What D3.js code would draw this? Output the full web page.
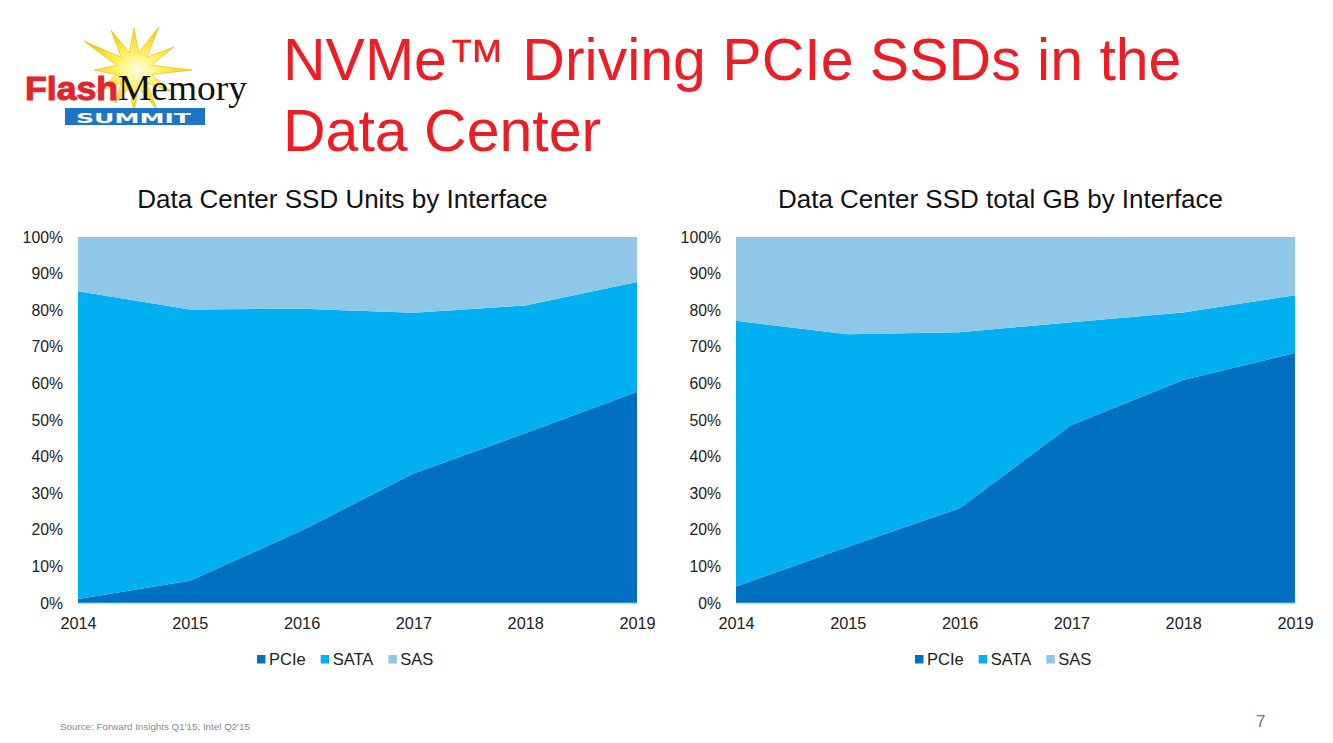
<!DOCTYPE html>
<html>
<head>
<meta charset="utf-8">
<script src="https://cdn.jsdelivr.net/npm/d3@7"></script>
<style>
  html, body { margin: 0; padding: 0; background: #fff; }
  svg { display: block; font-family: "Liberation Sans", Arial, sans-serif; }
</style>
</head>
<body>
<svg id="slide" width="1333" height="743"></svg>
<script>
// ---- data ----
const years = [2014, 2015, 2016, 2017, 2018, 2019];
const seriesNames = ["PCIe", "SATA", "SAS"];
// Units by interface (%)
const unitsPCIe = [1.1, 6.1, 19.8, 35.4, 46.4, 57.7];
const unitsSATA = [84.1, 74.1, 60.6, 43.9, 34.9, 30.0];
const unitsSAS  = [14.8, 19.8, 19.6, 20.7, 18.7, 12.3];
// Total GB by interface (%)
const gbPCIe = [4.5, 15.4, 25.9, 48.6, 60.9, 68.3];
const gbSATA = [72.6, 58.0, 48.1, 28.1, 18.5, 15.8];
const gbSAS  = [22.9, 26.6, 26.0, 23.3, 20.6, 15.9];
const yTicks = [0, 10, 20, 30, 40, 50, 60, 70, 80, 90, 100];
const chartTitles = ["Data Center SSD Units by Interface", "Data Center SSD total GB by Interface"];
const slideTitle = ["NVMe\u2122 Driving PCIe SSDs in the", "Data Center"];
const sourceText = "Source: Forward Insights Q1'15, Intel Q2'15";
const pageNumber = "7";

const colors = { PCIe: "#0070C0", SATA: "#00B0F0", SAS: "#8EC7E8" };

const svg = d3.select("#slide");

// ---- logo ----
const logo = svg.append("g").attr("class", "logo");
const defs = svg.append("defs");
const rg = defs.append("radialGradient").attr("id", "sun");
rg.append("stop").attr("offset", "0%").attr("stop-color", "#FFFDE8");
rg.append("stop").attr("offset", "45%").attr("stop-color", "#FFF15A");
rg.append("stop").attr("offset", "100%").attr("stop-color", "#F3C814");
const rays = [42, 50, 46, 58, 44, 46, 42, 38, 44, 40, 58, 46];
const starPts = [];
rays.forEach((r, i) => {
  const a = (i / rays.length) * 2 * Math.PI;
  starPts.push([a, r]);
  starPts.push([a + Math.PI / rays.length, 18]);
});
logo.append("path")
  .attr("transform", "translate(134,70)")
  .attr("d", d3.lineRadial().curve(d3.curveLinearClosed)(starPts))
  .attr("fill", "url(#sun)")
  .attr("stroke", "#E7B800").attr("stroke-width", 0.6);
logo.append("rect").attr("x", 65).attr("y", 108).attr("width", 140).attr("height", 17).attr("fill", "#1E74C8");
logo.append("text").attr("x", 76).attr("y", 122.5)
  .attr("fill", "#fff").attr("font-weight", "bold").attr("font-size", 14)
  .attr("font-family", "'DejaVu Sans', sans-serif")
  .attr("textLength", 115).attr("lengthAdjust", "spacingAndGlyphs").text("SUMMIT");
logo.append("text").attr("x", 25).attr("y", 100).attr("fill", "#E3242B")
  .attr("font-weight", "bold").attr("font-size", 33)
  .attr("stroke", "#E3242B").attr("stroke-width", 1)
  .attr("font-family", "'Liberation Sans Narrow', 'Liberation Sans', sans-serif")
  .attr("textLength", 93).attr("lengthAdjust", "spacingAndGlyphs").text("Flash");
logo.append("text").attr("x", 118).attr("y", 100).attr("fill", "#111")
  .attr("font-size", 36).attr("font-family", "'Liberation Serif', 'DejaVu Serif', serif")
  .attr("textLength", 129).attr("lengthAdjust", "spacingAndGlyphs").text("Memory");

// ---- slide title ----
svg.append("g").selectAll("text").data(slideTitle).join("text")
  .attr("x", 283).attr("y", (d, i) => 80 + i * 71)
  .attr("fill", "#EE1C25").attr("font-size", 59).text(d => d);

// ---- charts ----
function drawChart(opts) {
  const { left, right, top, bottom, title, values } = opts;
  const rows = years.map((y, i) => ({ year: y, PCIe: values[0][i], SATA: values[1][i], SAS: values[2][i] }));
  const stacked = d3.stack().keys(seriesNames).offset(d3.stackOffsetExpand)(rows);
  const x = d3.scaleLinear().domain(d3.extent(years)).range([left, right]);
  const y = d3.scaleLinear().domain([0, 1]).range([bottom, top]);
  const g = svg.append("g");

  g.append("text").attr("x", (left + right) / 2 - 15).attr("y", 208)
    .attr("text-anchor", "middle").attr("font-size", 26).attr("fill", "#111").text(title);

  const area = d3.area().x(d => x(d.data.year)).y0(d => y(d[0])).y1(d => y(d[1]));
  g.selectAll("path.layer").data(stacked).join("path")
    .attr("class", "layer").attr("d", area).attr("fill", d => colors[d.key]);

  g.append("line").attr("x1", left).attr("x2", right).attr("y1", bottom + 0.5).attr("y2", bottom + 0.5)
    .attr("stroke", "#BFE2F5").attr("stroke-width", 1.5);

  const yAxis = d3.axisLeft(y).tickValues(yTicks.map(t => t / 100))
    .tickFormat(d => Math.round(d * 100) + "%").tickSize(0).tickPadding(15);
  const ya = g.append("g").attr("transform", `translate(${left},0)`).call(yAxis);
  ya.select(".domain").remove();
  ya.selectAll("text").attr("font-size", 15.8).attr("fill", "#222").attr("font-family", null);

  const xAxis = d3.axisBottom(x).tickValues(years).tickFormat(d3.format("d")).tickSize(0).tickPadding(14);
  const xa = g.append("g").attr("transform", `translate(0,${bottom})`).call(xAxis);
  xa.select(".domain").remove();
  xa.selectAll("text").attr("font-size", 16.3).attr("fill", "#222").attr("font-family", null);

  // legend
  const lg = g.append("g").attr("transform", `translate(${left + 179},659)`);
  let cx = 0;
  seriesNames.forEach(name => {
    lg.append("rect").attr("x", cx).attr("y", -4).attr("width", 8.5).attr("height", 8.5).attr("fill", colors[name]);
    const t = lg.append("text").attr("x", cx + 12).attr("y", 6).attr("font-size", 16.5).attr("fill", "#222").text(name);
    cx += 12 + t.node().getComputedTextLength() + 15;
  });
}

drawChart({ left: 78, right: 637, top: 237, bottom: 603, title: chartTitles[0], values: [unitsPCIe, unitsSATA, unitsSAS] });
drawChart({ left: 736, right: 1295, top: 237, bottom: 603, title: chartTitles[1], values: [gbPCIe, gbSATA, gbSAS] });

// ---- footer ----
svg.append("text").attr("x", 60).attr("y", 730).attr("font-size", 9.8).attr("fill", "#8a8a8a").text(sourceText);
svg.append("text").attr("x", 1256).attr("y", 727).attr("font-size", 17).attr("fill", "#777").text(pageNumber);
</script>
</body>
</html>
